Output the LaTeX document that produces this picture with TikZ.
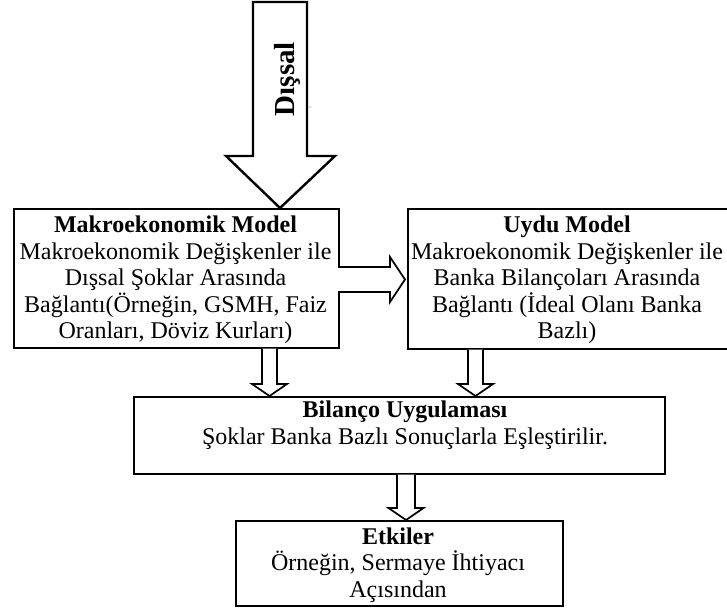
\documentclass[tikz,border=0pt]{standalone}
\usepackage{fontspec}
\setmainfont{Liberation Serif}
\usetikzlibrary{calc}
% hollow block arrow pointing down: #1 start, #2 tip, #3 half shaft, #4 half head, #5 head length
\newcommand{\hollowdown}[5]{%
  \draw[blk] let \p1=(#1), \p2=(#2) in
    (\x2-#3,\y1) -- (\x2-#3,\y2+#5) -- (\x2-#4,\y2+#5) -- (\x2,\y2)
    -- (\x2+#4,\y2+#5) -- (\x2+#3,\y2+#5) -- (\x2+#3,\y1);}
% hollow block arrow pointing right
\newcommand{\hollowright}[5]{%
  \draw[blk] let \p1=(#1), \p2=(#2) in
    (\x1,\y2+#3) -- (\x2-#5,\y2+#3) -- (\x2-#5,\y2+#4) -- (\x2,\y2)
    -- (\x2-#5,\y2-#4) -- (\x2-#5,\y2-#3) -- (\x1,\y2-#3);}
\begin{document}
\begin{tikzpicture}[x=1pt,y=-1pt,
  box/.style={draw,line width=1.7pt,inner sep=0pt},
  txt/.style={align=center,font=\fontsize{24}{26.5}\selectfont,inner sep=0pt},
  blk/.style={draw,line width=1.7pt,line join=miter,fill=white}]
\useasboundingbox (0,0) rectangle (727,608);

% boxes
\node[box,minimum width=325pt,minimum height=139pt,anchor=north west] (mac) at (13,208) {};
\node[box,minimum width=321pt,minimum height=140pt,anchor=north west] (uydu) at (407,208) {};
\node[box,minimum width=531pt,minimum height=77pt,anchor=north west] (bil) at (133,396) {};
\node[box,minimum width=327pt,minimum height=85pt,anchor=north west] (etk) at (235,520) {};

% box texts
\node[txt] (mact) at (175.5,280) {\textbf{Makroekonomik Model}\\Makroekonomik Değişkenler ile\\Dışsal Şoklar Arasında\\Bağlantı(Örneğin, GSMH, Faiz\\Oranları, Döviz Kurları)};
\node[txt] (uydut) at (567,280) {\textbf{Uydu Model}\\Makroekonomik Değişkenler ile\\Banka Bilançoları Arasında\\Bağlantı (İdeal Olanı Banka\\Bazlı)};
\node[txt] (bilt) at (405,425) {\textbf{Bilanço Uygulaması}\\Şoklar Banka Bazlı Sonuçlarla Eşleştirilir.};
\node[txt] (etkt) at (398,565) {\textbf{Etkiler}\\Örneğin, Sermaye İhtiyacı\\Açısından};

% large input arrow
\coordinate (top) at (280,2);
\draw[blk,line width=2.4pt] let \p1=(top), \p2=(mac.north -| top) in
  (\x1-27pt,\y1) -- (\x1+27pt,\y1) -- (\x1+27pt,\y2+52pt) -- (\x1+55pt,\y2+52pt)
  -- (\x2,\y2) -- (\x1-54pt,\y2+52pt) -- (\x1-27pt,\y2+52pt) -- cycle;
\node[font=\fontsize{29}{30}\selectfont\bfseries,rotate=90,inner sep=0pt] (dis) at (287,79) {Dışsal};
\node[font=\fontsize{6}{6}\selectfont,text=black!60,inner sep=0pt] (tl) at (310,108) {\char"7E};

% connecting block arrows
\coordinate (r1) at (338,279.5);
\coordinate (r2) at (405,279.5);
\hollowright{r1}{r2}{12.5pt}{22.5pt}{15pt}

\coordinate (d1) at (269.5,0);
\hollowdown{mac.south}{bil.north -| d1}{7.5pt}{17.5pt}{12pt}
\coordinate (d2) at (475.5,0);
\hollowdown{uydu.south}{bil.north -| d2}{7.5pt}{17.5pt}{12pt}
\coordinate (d3) at (406,0);
\hollowdown{bil.south}{etk.north -| d3}{9pt}{17.5pt}{12pt}
\end{tikzpicture}
\end{document}
